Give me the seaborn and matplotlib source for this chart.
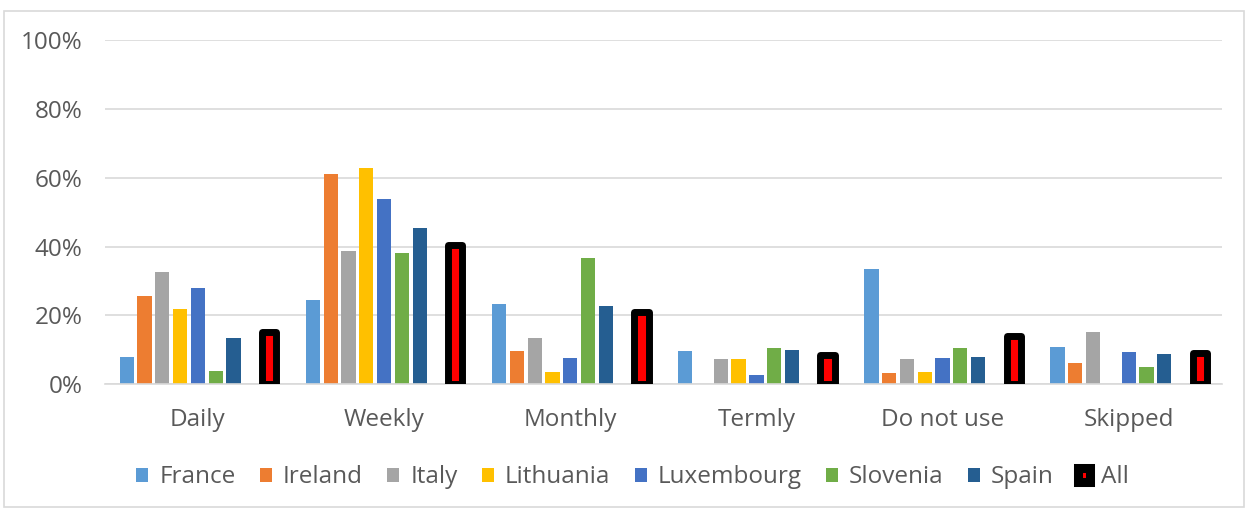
import numpy as np
import pandas as pd
import seaborn as sns
import matplotlib.pyplot as plt
from matplotlib.patches import Patch, Rectangle
import matplotlib.ticker as ticker

categories = ["Daily", "Weekly", "Monthly", "Termly", "Do not use", "Skipped"]
countries = ["France", "Ireland", "Italy", "Lithuania", "Luxembourg", "Slovenia", "Spain", "All"]

france = [7.8, 24.5, 23.2, 9.5, 33.5, 10.8]
ireland = [25.6, 61.2, 9.5, 0.0, 3.2, 6.0]
italy = [32.7, 38.7, 13.3, 7.4, 7.4, 15.2]
lithuania = [21.9, 62.8, 3.5, 7.3, 3.5, 0.0]
luxembourg = [28.0, 53.7, 7.5, 2.5, 7.5, 9.2]
slovenia = [3.8, 38.2, 36.6, 10.4, 10.4, 4.8]
spain = [13.4, 45.3, 22.7, 10.0, 8.0, 8.6]
all_ = [15.0, 40.5, 21.0, 8.5, 14.0, 9.0]

colors = ["#5B9BD5", "#ED7D31", "#A5A5A5", "#FFC000", "#4472C4", "#70AD47", "#255E91", "#FF0000"]

series = [france, ireland, italy, lithuania, luxembourg, slovenia, spain, all_]
rows = []
for name, vals in zip(countries, series):
    for cat, v in zip(categories, vals):
        rows.append({"category": cat, "country": name, "value": v / 100})
# empty slot between Spain and All, as in the original
for cat in categories:
    rows.append({"category": cat, "country": " ", "value": np.nan})
df = pd.DataFrame(rows)

hue_order = countries[:7] + [" "] + ["All"]
palette = dict(zip(countries, colors))
palette[" "] = "white"

sns.set_theme(style="white")
plt.rcParams["font.family"] = ["Open Sans", "DejaVu Sans"]
text_color = "#595959"
fs = 17.5

fig = plt.figure(figsize=(12.48, 5.09), dpi=100)
ax = fig.add_axes([0.084, 0.2456, 0.895, 0.675])

sns.barplot(data=df, x="category", y="value", hue="country", hue_order=hue_order,
            order=categories, palette=palette, width=0.86, gap=0.2, saturation=1,
            linewidth=0, ax=ax, legend=False, errorbar=None)

# "All" bars: red with a thick rounded black outline
for p in ax.patches:
    fc = p.get_facecolor()
    if fc[0] > 0.99 and fc[1] < 0.01 and fc[2] < 0.01:
        p.set_edgecolor("black")
        p.set_linewidth(5)
        p.set_joinstyle("round")
        p.set_zorder(3)

ax.set_ylim(0, 1)
ax.yaxis.set_major_locator(ticker.MultipleLocator(0.2))
ax.yaxis.set_major_formatter(ticker.PercentFormatter(1.0, decimals=0))
ax.grid(axis="y", color="#D9D9D9", linewidth=1.2)
ax.set_axisbelow(True)
for s in ["top", "right", "left"]:
    ax.spines[s].set_visible(False)
ax.spines["bottom"].set_color("#D9D9D9")
ax.spines["bottom"].set_linewidth(1.2)
ax.set_xlabel("")
ax.set_ylabel("")
ax.tick_params(axis="both", length=0, labelsize=fs, colors=text_color)
ax.tick_params(axis="x", pad=17)
ax.tick_params(axis="y", pad=16)
ax.set_xlim(-0.5, len(categories) - 0.5)

handles = []
for name, c in zip(countries, colors):
    if name == "All":
        handles.append(Patch(facecolor=c, edgecolor="black", linewidth=6.5, joinstyle="round", label=name))
    else:
        handles.append(Patch(facecolor=c, edgecolor="none", label=name))
leg = fig.legend(handles=handles, loc="center", bbox_to_anchor=(0.507, 0.062), ncol=8,
                 frameon=False, fontsize=fs, handlelength=0.5, handleheight=0.5,
                 handletextpad=0.45, columnspacing=1.0)
for t in leg.get_texts():
    t.set_color(text_color)

fig.patches.append(Rectangle((0.003, 0.003), 0.994, 0.975, transform=fig.transFigure,
                             fill=False, edgecolor="#D9D9D9", linewidth=1.2))

fig.savefig("out.png", dpi=100)
